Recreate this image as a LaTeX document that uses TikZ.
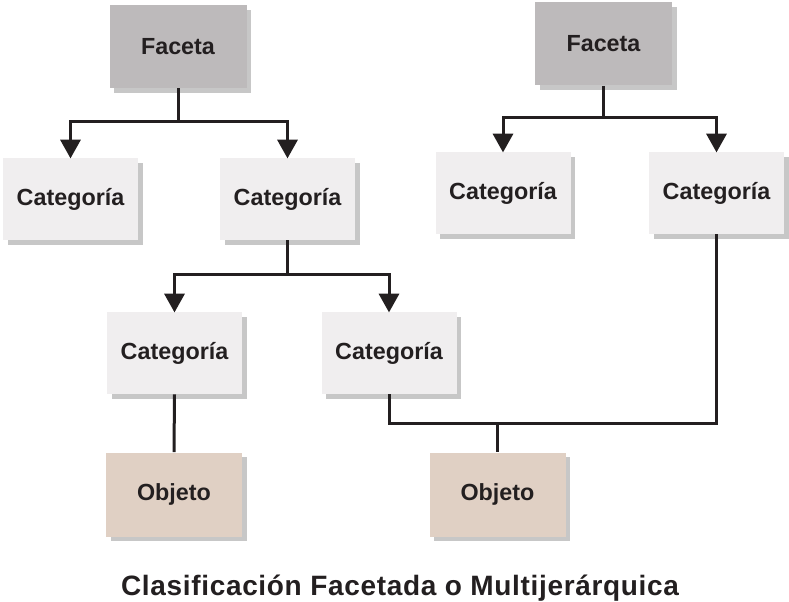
\documentclass[tikz,border=0pt]{standalone}
\usepackage{fontspec}
\setmainfont{Liberation Sans}
\newfontfamily\boxfont{Liberation Sans}
\newfontfamily\titlefont[LetterSpace=2.4]{Liberation Sans}
\usetikzlibrary{arrows.meta,shadows}
\definecolor{ink}{HTML}{231F20}
\definecolor{facfill}{HTML}{BDBABB}
\definecolor{catfill}{HTML}{F0EEEF}
\definecolor{objfill}{HTML}{E0D0C4}
\tikzset{
  basebox/.style={draw=none, inner sep=0pt, text=ink,
    font=\boxfont\bfseries\fontsize{17.5pt}{20pt}\selectfont,
    drop shadow={shadow xshift=3.5pt, shadow yshift=-3.5pt, fill=black!40, opacity=0.55}},
  facbox/.style={basebox, fill=facfill, minimum width=102.75pt, minimum height=62.25pt},
  catbox/.style={basebox, fill=catfill, minimum width=101.25pt, minimum height=61.5pt},
  objbox/.style={basebox, fill=objfill, minimum width=102pt, minimum height=63pt},
  conn/.style={draw=ink, line width=2.25pt},
  arr/.style={conn, -{Triangle[width=15pt,length=14pt]}, shorten >=-0.5pt},
}
\begin{document}
\begin{tikzpicture}[x=0.75pt,y=-0.75pt]
\useasboundingbox[fill=white] (0,0) rectangle (789,602);
% left tree
\node[facbox] (F1) at (178,46.5) {Faceta};
\node[catbox] (C1a) at (70.5,199) {Categoría};
\node[catbox] (C1b) at (287.5,199) {Categoría};
\node[catbox] (C3a) at (174.5,353) {Categoría};
\node[catbox] (C3b) at (389,353) {Categoría};
\node[objbox] (O1) at (174,494.5) {Objeto};
% right tree
\node[facbox] (F2) at (603.5,44) {Faceta};
\node[catbox] (C2a) at (503,193) {Categoría};
\node[catbox] (C2b) at (716.5,193) {Categoría};
\node[objbox] (O2) at (497.5,494.5) {Objeto};
% junctions
\coordinate (j1) at (178,122);
\coordinate (j2) at (603.5,118);
\coordinate (j3) at (287.5,275);
\coordinate (j4) at (497.5,423);
% connectors
\draw[conn] (F1.south) -- (j1);
\draw[arr] (j1) -| (C1a.north);
\draw[arr] (j1) -| (C1b.north);
\draw[conn] (F2.south) -- (j2);
\draw[arr] (j2) -| (C2a.north);
\draw[arr] (j2) -| (C2b.north);
\draw[conn] (C1b.south) -- (j3);
\draw[arr] (j3) -| (C3a.north);
\draw[arr] (j3) -| (C3b.north);
\draw[conn] (C3a.south) -- (O1.north);
\draw[conn] (C3b.south) |- (j4) -| (C2b.south);
\draw[conn] (j4) -- (O2.north);
% title
\node[text=ink, anchor=base, inner sep=0pt, font=\titlefont\bfseries\fontsize{21pt}{24pt}\selectfont] (title) at (400,595) {Clasificación Facetada o Multijerárquica};
\end{tikzpicture}
\end{document}
